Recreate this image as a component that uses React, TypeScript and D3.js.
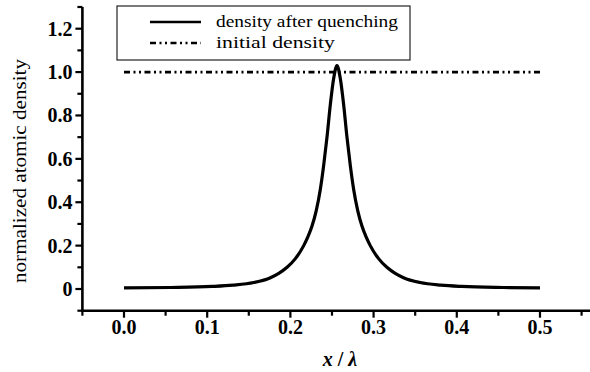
import React, { useEffect, useRef } from 'react';
import * as d3 from 'd3';

// positions along x / lambda and the density
const xPos = [0, 0.056, 0.106, 0.131, 0.156, 0.176, 0.186, 0.196, 0.206, 0.216, 0.221, 0.226, 0.231, 0.236, 0.24,
  0.244, 0.248, 0.252, 0.256, 0.26, 0.264, 0.268, 0.272, 0.276, 0.281, 0.286, 0.291, 0.296, 0.306, 0.316, 0.326,
  0.336, 0.356, 0.381, 0.406, 0.456, 0.5];
const afterQuench = [0.005, 0.007, 0.012, 0.018, 0.03, 0.052, 0.072, 0.1, 0.14, 0.2, 0.24, 0.29, 0.36, 0.46, 0.57,
  0.7, 0.85, 0.97, 1.03, 0.97, 0.85, 0.7, 0.57, 0.46, 0.36, 0.29, 0.24, 0.2, 0.14, 0.1, 0.072,
  0.052, 0.03, 0.018, 0.012, 0.007, 0.005];
const initialX = [0, 0.5];
const initialDensity = [1.0, 1.0];

const xTicks = [0, 0.1, 0.2, 0.3, 0.4, 0.5];
const xTickLabels = ['0.0', '0.1', '0.2', '0.3', '0.4', '0.5'];
const yTicks = [0, 0.2, 0.4, 0.6, 0.8, 1.0, 1.2];
const yTickLabels = ['0', '0.2', '0.4', '0.6', '0.8', '1.0', '1.2'];
const legendNames = ['density after quenching', 'initial density'];

const W = 590;
const H = 372;
const FONT = '"Liberation Serif", "Times New Roman", serif';
const DASH = '6,3.5,2,3.5,2,3.5';

export default function App() {
  const ref = useRef<SVGSVGElement>(null);

  useEffect(() => {
    const svg = d3.select(ref.current);
    svg.selectAll('*').remove();

    const x = d3.scaleLinear().domain([-0.05, 0.56]).range([82.4, 589.9]);
    const y = d3.scaleLinear().domain([-0.1, 1.3]).range([310.7, 7]);

    svg.append('rect').attr('width', W).attr('height', H).attr('fill', '#fff');

    // axes lines
    const axes = svg.append('g').attr('stroke', '#000').attr('stroke-width', 2.6).attr('fill', 'none');
    axes.append('line').attr('x1', x(-0.05)).attr('x2', x(-0.05)).attr('y1', y(1.3)).attr('y2', y(-0.1));
    axes.append('line').attr('x1', x(-0.05) - 1.3).attr('x2', W).attr('y1', y(-0.1)).attr('y2', y(-0.1));

    // y ticks
    const yMinor = d3.range(-1, 14).map(i => i / 10).filter(v => !yTicks.some(t => Math.abs(t - v) < 1e-6));
    const ticks = svg.append('g').attr('stroke', '#000').attr('stroke-width', 2.2);
    ticks.selectAll('.ymaj').data(yTicks).enter().append('line')
      .attr('x1', x(-0.05) - 7).attr('x2', x(-0.05))
      .attr('y1', d => y(d)).attr('y2', d => y(d));
    ticks.selectAll('.ymin').data(yMinor).enter().append('line')
      .attr('x1', x(-0.05) - 5).attr('x2', x(-0.05))
      .attr('y1', d => y(d)).attr('y2', d => y(d));

    // x ticks
    const xMinor = [-0.05, 0.05, 0.15, 0.25, 0.35, 0.45, 0.55];
    ticks.selectAll('.xmaj').data(xTicks).enter().append('line')
      .attr('x1', d => x(d)).attr('x2', d => x(d))
      .attr('y1', y(-0.1)).attr('y2', y(-0.1) + 7);
    ticks.selectAll('.xmin').data(xMinor).enter().append('line')
      .attr('x1', d => x(d)).attr('x2', d => x(d))
      .attr('y1', y(-0.1)).attr('y2', y(-0.1) + 5);

    // tick labels
    svg.append('g').selectAll('text').data(yTicks).enter().append('text')
      .attr('x', x(-0.05) - 10).attr('y', d => y(d)).attr('dy', '0.35em')
      .attr('text-anchor', 'end').attr('font-family', FONT).attr('font-weight', 'bold')
      .attr('font-size', 20).text((d, i) => yTickLabels[i]);
    svg.append('g').selectAll('text').data(xTicks).enter().append('text')
      .attr('x', d => x(d)).attr('y', 334)
      .attr('text-anchor', 'middle').attr('font-family', FONT).attr('font-weight', 'bold')
      .attr('font-size', 20).text((d, i) => xTickLabels[i]);

    // axis titles
    svg.append('text')
      .attr('transform', `translate(26,${(58 + 284) / 2}) rotate(-90)`)
      .attr('text-anchor', 'middle').attr('font-family', FONT).attr('font-size', 18)
      .attr('textLength', 224).attr('lengthAdjust', 'spacingAndGlyphs')
      .text('normalized atomic density');
    const xl = svg.append('text').attr('x', 340).attr('y', 366).attr('text-anchor', 'middle')
      .attr('font-family', FONT).attr('font-size', 20).attr('font-weight', 'bold');
    xl.append('tspan').attr('font-style', 'italic').text('x');
    xl.append('tspan').text(' / ');
    xl.append('tspan').attr('font-style', 'italic').text('λ');

    // initial density
    const line = d3.line<number>().x((d, i) => x(initialX[i])).y(d => y(d));
    svg.append('path').datum(initialDensity).attr('d', line)
      .attr('fill', 'none').attr('stroke', '#000').attr('stroke-width', 2.8).attr('stroke-dasharray', DASH);

    // density after quenching
    const curve = d3.line<number>().x((d, i) => x(xPos[i])).y(d => y(d)).curve(d3.curveMonotoneX);
    svg.append('path').datum(afterQuench).attr('d', curve)
      .attr('fill', 'none').attr('stroke', '#000').attr('stroke-width', 3.2).attr('stroke-linejoin', 'round');

    // legend
    const lg = svg.append('g');
    lg.append('rect').attr('x', 117).attr('y', 6).attr('width', 293).attr('height', 54)
      .attr('fill', '#fff').attr('stroke', '#222').attr('stroke-width', 1.2);
    const rows = [22, 43];
    const widths = [182, 119];
    lg.append('line').attr('x1', 150).attr('x2', 201).attr('y1', rows[0]).attr('y2', rows[0])
      .attr('stroke', '#000').attr('stroke-width', 2.6);
    lg.append('line').attr('x1', 150).attr('x2', 201).attr('y1', rows[1]).attr('y2', rows[1])
      .attr('stroke', '#000').attr('stroke-width', 2.6).attr('stroke-dasharray', DASH);
    lg.selectAll('.lt').data(legendNames).enter().append('text')
      .attr('x', 216).attr('y', (d, i) => rows[i]).attr('dy', '0.32em')
      .attr('font-family', FONT).attr('font-size', 17)
      .attr('textLength', (d, i) => widths[i]).attr('lengthAdjust', 'spacingAndGlyphs')
      .text(d => d);
  }, []);

  return (
    <svg ref={ref} width={W} height={H} style={{ position: 'absolute', left: 0, top: 0, display: 'block' }} />
  );
}
